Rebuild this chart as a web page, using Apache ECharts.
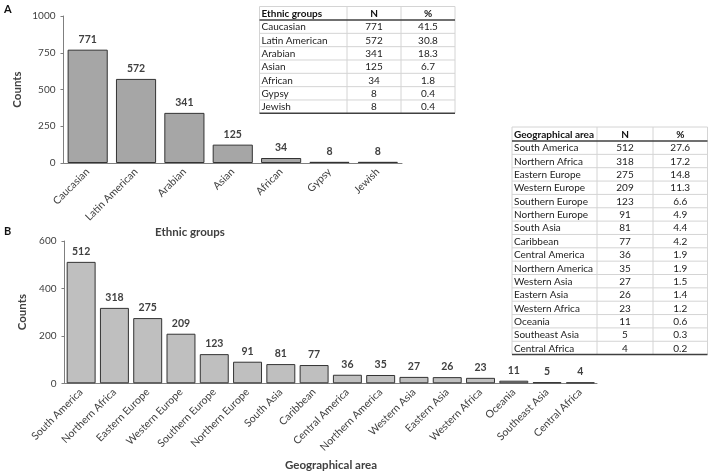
<!DOCTYPE html>
<html><head><meta charset="utf-8">
<script src="https://cdn.jsdelivr.net/npm/echarts@6/dist/echarts.min.js"></script>
<style>html,body{margin:0;padding:0;background:#fff}#c{width:708px;height:472px}</style>
</head><body><div id="c"></div>
<script>
// ---- Data ----
const ethnicGroups = ['Caucasian','Latin American','Arabian','Asian','African','Gypsy','Jewish'];
const ethnicCounts = [771,572,341,125,34,8,8];
const ethnicPct = ['41.5','30.8','18.3','6.7','1.8','0.4','0.4'];
const ethnicTicks = [0,250,500,750,1000];

const areas = ['South America','Northern Africa','Eastern Europe','Western Europe','Southern Europe','Northern Europe','South Asia','Caribbean','Central America','Northern America','Western Asia','Eastern Asia','Western Africa','Oceania','Southeast Asia','Central Africa'];
const areaCounts = [512,318,275,209,123,91,81,77,36,35,27,26,23,11,5,4];
const areaPct = ['27.6','17.2','14.8','11.3','6.6','4.9','4.4','4.2','1.9','1.9','1.5','1.4','1.2','0.6','0.3','0.2'];
const areaTicks = [0,200,400,600];

const tableAHeaders = ['Ethnic groups','N','%'];
const tableBHeaders = ['Geographical area','N','%'];

// ---- Style ----
const FONT = 'Lato';
const TXT = '#404040';

function buildTable(x0, cols, y0, headH, rowH, headers, names, ns, pcts) {
  const els = [];
  const xs = [x0];
  cols.forEach(w => xs.push(xs[xs.length-1] + w));
  const n = names.length;
  const yEnd = y0 + headH + n*rowH;
  const light = '#d4d4d4';
  els.push({type:'line', shape:{x1:xs[0],y1:y0,x2:xs[3],y2:y0}, style:{stroke:light,lineWidth:1}, silent:true});
  for (let i=1;i<n;i++){
    const y = y0+headH+i*rowH;
    els.push({type:'line', shape:{x1:xs[0],y1:y,x2:xs[3],y2:y}, style:{stroke:light,lineWidth:1}, silent:true});
  }
  xs.forEach(x => els.push({type:'line', shape:{x1:x,y1:y0,x2:x,y2:yEnd}, style:{stroke:light,lineWidth:1}, silent:true}));
  els.push({type:'line', shape:{x1:xs[0],y1:y0+headH,x2:xs[3],y2:y0+headH}, style:{stroke:'#404040',lineWidth:1.5}, silent:true});
  els.push({type:'line', shape:{x1:xs[0],y1:yEnd,x2:xs[3],y2:yEnd}, style:{stroke:'#404040',lineWidth:1.5}, silent:true});
  const hf = 'bold 10px '+FONT, bf = '10px '+FONT;
  els.push({type:'text', style:{text:headers[0], x:xs[0]+2, y:y0+headH/2+0.5, font:hf, fill:'#111', align:'left', verticalAlign:'middle'}, silent:true});
  els.push({type:'text', style:{text:headers[1], x:(xs[1]+xs[2])/2, y:y0+headH/2+0.5, font:hf, fill:'#111', align:'center', verticalAlign:'middle'}, silent:true});
  els.push({type:'text', style:{text:headers[2], x:(xs[2]+xs[3])/2, y:y0+headH/2+0.5, font:hf, fill:'#111', align:'center', verticalAlign:'middle'}, silent:true});
  for (let i=0;i<n;i++){
    const cy = y0+headH+i*rowH+rowH/2+0.5;
    els.push({type:'text', style:{text:names[i], x:xs[0]+2, y:cy, font:bf, fill:'#222', align:'left', verticalAlign:'middle'}, silent:true});
    els.push({type:'text', style:{text:String(ns[i]), x:(xs[1]+xs[2])/2, y:cy, font:bf, fill:'#222', align:'center', verticalAlign:'middle'}, silent:true});
    els.push({type:'text', style:{text:pcts[i], x:(xs[2]+xs[3])/2, y:cy, font:bf, fill:'#222', align:'center', verticalAlign:'middle'}, silent:true});
  }
  return els;
}

const graphics = [
  {type:'text', style:{text:'A', x:4, y:9, font:'bold 11px '+FONT, fill:'#111', align:'left', verticalAlign:'middle'}},
  {type:'text', style:{text:'B', x:4, y:231, font:'bold 11px '+FONT, fill:'#111', align:'left', verticalAlign:'middle'}},
  {type:'text', style:{text:'Ethnic groups', x:190, y:232, font:'bold 11.5px '+FONT, fill:TXT, align:'center', verticalAlign:'middle'}},
  {type:'text', style:{text:'Geographical area', x:331, y:465, font:'bold 11.5px '+FONT, fill:TXT, align:'center', verticalAlign:'middle'}},
].concat(
  buildTable(259.5, [87.5,54,54], 6.5, 13.5, 13.33, tableAHeaders, ethnicGroups, ethnicCounts, ethnicPct),
  buildTable(512, [85,56,54.5], 127, 14, 13.35, tableBHeaders, areas, areaCounts, areaPct)
);

function yAx(gi, ticks, gap) {
  return {
    gridIndex: gi, type:'value', min: ticks[0], max: ticks[ticks.length-1], interval: ticks[1]-ticks[0],
    name:'Counts', nameLocation:'middle', nameGap: gap, nameRotate: 90,
    nameTextStyle:{fontFamily:FONT, fontWeight:'bold', fontSize:11.5, color:TXT},
    axisLine:{show:true, lineStyle:{color:'#7f7f7f', width:1}},
    axisTick:{show:true, length:3, lineStyle:{color:'#7f7f7f'}},
    splitLine:{show:false},
    axisLabel:{fontFamily:FONT, fontSize:10, color:'#404040', margin:8, formatter: v => String(v)}
  };
}
function xAx(gi, cats) {
  return {
    gridIndex: gi, type:'category', data: cats,
    axisLine:{show:true, lineStyle:{color:'#7f7f7f', width:1}},
    axisTick:{show:false},
    axisLabel:{rotate:45, interval:0, fontFamily:FONT, fontSize:10.5, color:'#404040', margin:7}
  };
}

const option = {
  animation:false,
  backgroundColor:'#fff',
  grid:[
    {left:63.5, top:16, width:338.5, height:147, containLabel:false},
    {left:64.5, top:241, width:532.5, height:142.3, containLabel:false}
  ],
  xAxis:[xAx(0, ethnicGroups), xAx(1, areas)],
  yAxis:[yAx(0, ethnicTicks, 40), yAx(1, areaTicks, 34)],
  series:[
    {type:'bar', xAxisIndex:0, yAxisIndex:0, data:ethnicCounts, barCategoryGap:'17%',
     itemStyle:{color:'#a6a6a6', borderColor:'#333', borderWidth:1},
     label:{show:true, position:'top', distance:5, fontFamily:FONT, fontWeight:'bold', fontSize:10.5, color:TXT}},
    {type:'bar', xAxisIndex:1, yAxisIndex:1, data:areaCounts, barCategoryGap:'13%',
     itemStyle:{color:'#bfbfbf', borderColor:'#333', borderWidth:1},
     label:{show:true, position:'top', distance:5, fontFamily:FONT, fontWeight:'bold', fontSize:10.5, color:TXT}}
  ],
  graphic: graphics
};
const chart = echarts.init(document.getElementById('c'), null, {renderer:'canvas'});
chart.setOption(option);
</script></body></html>
